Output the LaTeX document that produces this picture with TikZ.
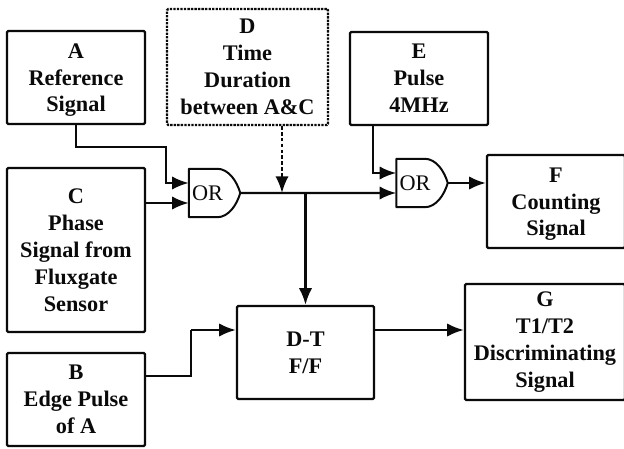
\documentclass[tikz,border=0pt]{standalone}
\usepackage{fontspec}
\setmainfont{Liberation Serif}
\usetikzlibrary{arrows.meta}
\definecolor{inkBlack}{RGB}{10, 10, 10}
\newcommand{\topgap}{\rule{0pt}{17pt}}
\tikzset{
  blockbox/.style={draw=inkBlack,line width=2pt,rounded corners=1pt,align=center,text=inkBlack,font=\fontsize{19}{23}\selectfont\bfseries,inner sep=0pt},
  timebox/.style={blockbox,densely dotted},
  gatebox/.style={minimum width=1.53cm,minimum height=1.44cm,inner xsep=0.09cm,inner ysep=0pt,text width=1.35cm,align=left,text=inkBlack,font=\fontsize{19}{23}\selectfont},
  gateline/.style={draw=inkBlack,line width=1.7pt,line join=round},
  wire/.style={draw=inkBlack,line width=2pt,-{Latex[length=5mm,width=4mm]}},
  plainwire/.style={draw=inkBlack,line width=2pt},
  timewire/.style={wire,densely dashed}
}
\newcommand{\orgate}[2]{
  \node[gatebox] (#1) at (#2) {OR};
  \draw[gateline] (#1.north west) -- ++(0.85,0) .. controls +(0.35,0) and +(-0.1,0.35) .. (#1.east)
    .. controls +(-0.1,-0.35) and +(0.35,0) .. ([xshift=0.85cm]#1.south west) -- (#1.south west) -- cycle;
}
\begin{document}
\begin{tikzpicture}
  \clip (0,0) rectangle (18.72,13.44);
  % Signal boxes
  \node[blockbox,minimum width=4.14cm,minimum height=2.79cm] (sigA) at (2.28,11.115) {\topgap A\\Reference\\Signal};
  \node[timebox,minimum width=4.83cm,minimum height=3.48cm] (sigD) at (7.425,11.43) {D\\Time\\Duration\\between A\&C};
  \node[blockbox,minimum width=4.14cm,minimum height=2.79cm] (sigE) at (12.57,11.085) {E\\Pulse\\4MHz};
  \node[blockbox,minimum width=4.14cm,minimum height=4.92cm] (sigC) at (2.28,5.94) {C\\Phase\\Signal from\\Fluxgate\\Sensor};
  \node[blockbox,minimum width=4.14cm,minimum height=2.79cm] (sigB) at (2.28,1.455) {B\\Edge Pulse\\of A};
  \node[blockbox,minimum width=4.11cm,minimum height=2.79cm] (flipflop) at (9.165,2.865) {D-T\\F/F};
  \node[blockbox,minimum width=4.14cm,minimum height=2.79cm] (sigF) at (16.68,7.395) {\topgap F\\Counting\\Signal};
  \node[blockbox,minimum width=4.8cm,minimum height=3.48cm] (sigG) at (16.35,3.18) {G\\T1/T2\\Discriminating\\Signal};

  % Gates
  \orgate{orA}{6.435,7.65}
  \orgate{orB}{12.66,7.95}

  % Turning points
  \coordinate (turnA) at (4.98,9.03);
  \coordinate (turnB) at (5.73,2.16);
  \coordinate (inAa) at ([yshift=0.3cm]orA.west);
  \coordinate (inAb) at ([yshift=-0.3cm]orA.west);
  \coordinate (inBa) at ([yshift=0.3cm]orB.west);
  \coordinate (inBb) at ([yshift=-0.3cm]orB.west);
  \coordinate (inFF) at ([yshift=0.675cm]flipflop.west);
  \coordinate (outFF) at ([yshift=0.675cm]flipflop.east);
  \coordinate (tapD) at ([xshift=1.035cm]sigD.south);
  \coordinate (tapE) at ([xshift=-1.38cm]sigE.south);

  % Connections
  \draw[wire] (sigA.south) |- (turnA) |- (inAa);
  \draw[wire] (sigC.east |- inAb) -- (inAb);
  \draw[wire] (orA.east) -- (inBb);
  \draw[wire] (tapE) |- (inBa);
  \draw[wire] (orB.east) -- (sigF.west |- orB.east);
  \draw[timewire] (tapD) -- (tapD |- orA.east);
  \draw[wire] (flipflop.north |- orA.east) -- (flipflop.north);
  \draw[plainwire] (sigB.east |- turnB) -- (turnB) |- (turnB |- inFF);
  \draw[wire] (turnB |- inFF) -- (inFF);
  \draw[wire] (outFF) -- (sigG.west |- outFF);
\end{tikzpicture}
\end{document}
